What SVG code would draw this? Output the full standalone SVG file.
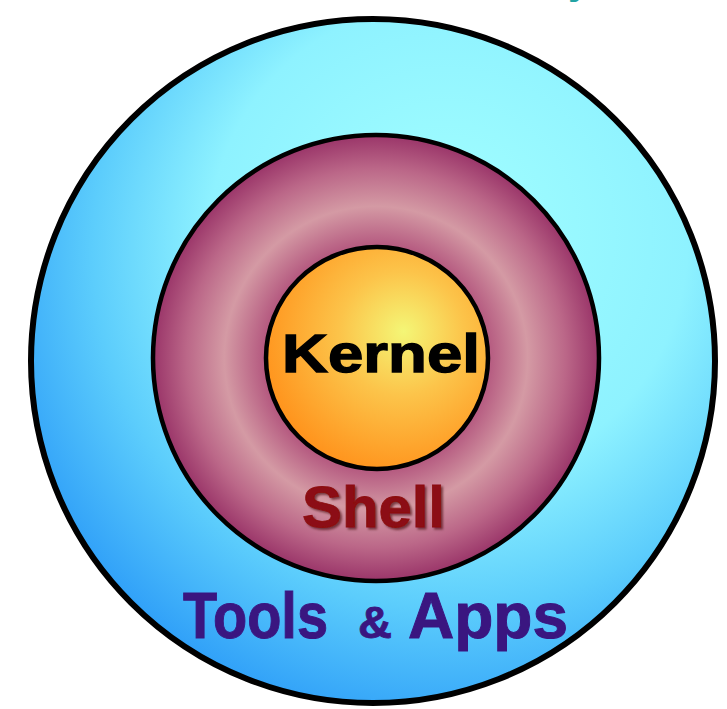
<svg xmlns="http://www.w3.org/2000/svg" width="727" height="709" viewBox="0 0 727 709">
  <defs>
    <radialGradient id="gOuter" cx="0.62" cy="0.35" r="0.7" fx="0.6" fy="0.3">
      <stop offset="0" stop-color="#a2ffff"/>
      <stop offset="0.5" stop-color="#8ef2ff"/>
      <stop offset="0.75" stop-color="#5ccdfc"/>
      <stop offset="1" stop-color="#2e9ef8"/>
    </radialGradient>
    <radialGradient id="gShell" cx="0.5" cy="0.5" r="0.5">
      <stop offset="0" stop-color="#b4587f"/>
      <stop offset="0.5" stop-color="#b4587f"/>
      <stop offset="0.68" stop-color="#d49aa4"/>
      <stop offset="0.85" stop-color="#bb6788"/>
      <stop offset="1" stop-color="#9a3569"/>
    </radialGradient>
    <radialGradient id="gKernel" cx="0.6" cy="0.4" r="0.62" fx="0.62" fy="0.38">
      <stop offset="0" stop-color="#f4f676"/>
      <stop offset="0.45" stop-color="#fcc44a"/>
      <stop offset="1" stop-color="#ff951e"/>
    </radialGradient>
    <filter id="shadow" x="-10%" y="-20%" width="130%" height="150%">
      <feDropShadow dx="2" dy="2" stdDeviation="1" flood-color="#3a0005" flood-opacity="0.6"/>
    </filter>
  </defs>
  <style>
    .ring { stroke: #000; }
    .lbl { font-family: "Liberation Sans", Arial, Helvetica, sans-serif; font-weight: bold; }
  </style>
  <rect width="727" height="709" fill="#ffffff"/>
  <text class="lbl" x="568" y="-6" font-size="40" fill="#23a3a3">y</text>
  <g id="node-tools">
    <circle class="ring" cx="373" cy="361" r="342" fill="url(#gOuter)" stroke-width="6"/>
    <text class="lbl" x="183" y="638" font-size="64" fill="#3a1680" stroke="#3a1680" stroke-width="1" textLength="145" lengthAdjust="spacingAndGlyphs">Tools</text>
    <text class="lbl" x="358" y="638" font-size="44" fill="#3a1680" stroke="#3a1680" stroke-width="0.8" textLength="34" lengthAdjust="spacingAndGlyphs">&amp;</text>
    <text class="lbl" x="408" y="638" font-size="64" fill="#3a1680" stroke="#3a1680" stroke-width="1" textLength="160" lengthAdjust="spacingAndGlyphs">Apps</text>
  </g>
  <g id="node-shell">
    <circle class="ring" cx="376" cy="358" r="223" fill="url(#gShell)" stroke-width="4.5"/>
    <text class="lbl" x="302" y="527" font-size="58" fill="#8c0b12" stroke="#8c0b12" stroke-width="0.8" textLength="143" lengthAdjust="spacingAndGlyphs" filter="url(#shadow)">Shell</text>
  </g>
  <g id="node-kernel">
    <circle class="ring" cx="377" cy="358" r="111" fill="url(#gKernel)" stroke-width="4.5"/>
    <text class="lbl" x="282" y="372" font-size="54" fill="#000000" stroke="#000000" stroke-width="1.3" textLength="198" lengthAdjust="spacingAndGlyphs">Kernel</text>
  </g>
  <g id="connectors"/>
</svg>
